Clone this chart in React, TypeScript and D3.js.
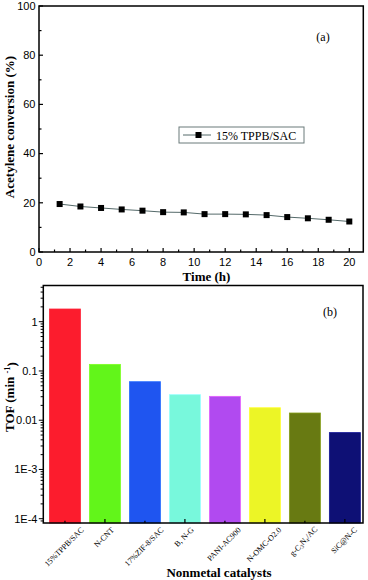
import React, { useEffect, useRef } from 'react';
import * as d3 from 'd3';

// panel (a): conversion vs time
const timeH = [1.33, 2.67, 4, 5.33, 6.67, 8, 9.33, 10.67, 12, 13.33, 14.67, 16, 17.33, 18.67, 20];
const conversion = [19.5, 18.5, 17.9, 17.3, 16.8, 16.2, 16.1, 15.4, 15.4, 15.3, 15.0, 14.2, 13.7, 13.1, 12.4];
const xTicksA = [0, 2, 4, 6, 8, 10, 12, 14, 16, 18, 20];
const yTicksA = [0, 20, 40, 60, 80, 100];

// panel (b): TOF of nonmetal catalysts
const catalysts = ['15%TPPB/SAC', 'N-CNT', '17%ZIF-8/SAC', 'B, N-G', 'PANI-AC900', 'N-OMC-O2.0', 'g-C3N4/AC', 'SiC@N-C'];
const tof = [1.81, 0.136, 0.0605, 0.033, 0.0305, 0.0179, 0.014, 0.0056];
const barColors = ['#fc1c2d', '#62f51a', '#1f55f0', '#78f8dc', '#b14af0', '#ecf526', '#687a12', '#0e1075'];
const yTicksB = [1, 0.1, 0.01, 0.001, 0.0001];
const yTickLabelsB = ['1', '0.1', '0.01', '1E-3', '1E-4'];

const SANS = 'Liberation Sans, Arial, sans-serif';
const SERIF = 'Liberation Serif, Times New Roman, serif';

export default function App() {
  const ref = useRef<SVGSVGElement>(null);

  useEffect(() => {
    const svg = d3.select(ref.current);
    svg.selectAll('*').remove();

    // ---------- panel (a) ----------
    const a = { l: 39, r: 363.3, t: 6, b: 252 };
    const x = d3.scaleLinear().domain([0, 21]).range([a.l, a.l + 21 * 15.515]);
    const y = d3.scaleLinear().domain([0, 100]).range([a.b, a.t]);
    const ga = svg.append('g');

    // minor + major ticks (inward)
    d3.range(0, 101, 10).forEach((v) => {
      const len = v % 20 === 0 ? 4 : 2.5;
      ga.append('line').attr('x1', a.l).attr('x2', a.l + len).attr('y1', y(v)).attr('y2', y(v))
        .attr('stroke', '#000').attr('stroke-width', 1.2);
    });
    d3.range(0, 21, 1).forEach((v) => {
      const len = v % 2 === 0 ? 4 : 2.5;
      ga.append('line').attr('x1', x(v)).attr('x2', x(v)).attr('y1', a.b).attr('y2', a.b - len)
        .attr('stroke', '#000').attr('stroke-width', 1.2);
    });
    ga.append('rect').attr('x', a.l).attr('y', a.t).attr('width', a.r - a.l).attr('height', a.b - a.t)
      .attr('fill', 'none').attr('stroke', '#000').attr('stroke-width', 1.5);

    ga.selectAll('.yl').data(yTicksA).enter().append('text')
      .attr('x', 35.5).attr('y', (d) => y(d)).attr('dy', '0.35em').attr('text-anchor', 'end')
      .attr('font-family', SANS).attr('font-size', 11).text((d) => d);
    ga.selectAll('.xl').data(xTicksA).enter().append('text')
      .attr('x', (d) => x(d)).attr('y', 266).attr('text-anchor', 'middle')
      .attr('font-family', SANS).attr('font-size', 11).text((d) => d);

    ga.append('text').attr('transform', 'translate(14,127) rotate(-90)').attr('text-anchor', 'middle')
      .attr('font-family', SERIF).attr('font-weight', 'bold').attr('font-size', 13)
      .text('Acetylene conversion (%)');
    ga.append('text').attr('x', 206.5).attr('y', 281).attr('text-anchor', 'middle')
      .attr('font-family', SERIF).attr('font-weight', 'bold').attr('font-size', 13).text('Time (h)');
    ga.append('text').attr('x', 323).attr('y', 41).attr('text-anchor', 'middle')
      .attr('font-family', SERIF).attr('font-size', 12).text('(a)');

    const line = d3.line<number>().x((_, i) => x(timeH[i])).y((d) => y(d));
    ga.append('path').datum(conversion).attr('d', line).attr('fill', 'none')
      .attr('stroke', '#556a6a').attr('stroke-width', 1);
    ga.selectAll('.pt').data(conversion).enter().append('rect')
      .attr('x', (_, i) => x(timeH[i]) - 3).attr('y', (d) => y(d) - 3)
      .attr('width', 6).attr('height', 6).attr('fill', '#000');

    // legend
    const lg = ga.append('g');
    lg.append('rect').attr('x', 179).attr('y', 127).attr('width', 125).attr('height', 16)
      .attr('fill', '#fff').attr('stroke', '#6a7a7a').attr('stroke-width', 1);
    lg.append('line').attr('x1', 183).attr('x2', 211).attr('y1', 135).attr('y2', 135)
      .attr('stroke', '#556a6a').attr('stroke-width', 1);
    lg.append('rect').attr('x', 195.5).attr('y', 132).attr('width', 6).attr('height', 6).attr('fill', '#000');
    lg.append('text').attr('x', 216).attr('y', 139.5).attr('font-family', SERIF).attr('font-size', 12)
      .text('15% TPPB/SAC');

    // ---------- panel (b) ----------
    const b = { l: 43.3, r: 363, t: 285.5, b: 523 };
    const yb = d3.scaleLog().domain([Math.pow(10, -4.087), Math.pow(10, 0.735)]).range([b.b, b.t]);
    const xb = d3.scaleBand<string>().domain(catalysts).range([b.l, b.r])
      .paddingInner(0.225).paddingOuter(0.11).align(0.7);
    const gb = svg.append('g');

    gb.selectAll('.bar').data(tof).enter().append('rect')
      .attr('x', (_, i) => xb(catalysts[i]) as number).attr('width', xb.bandwidth())
      .attr('y', (d) => yb(d)).attr('height', (d) => b.b - yb(d))
      .attr('fill', (_, i) => barColors[i])
      .attr('stroke', (_, i) => (d3.color(barColors[i]) as d3.Color).brighter(0.7).formatHex())
      .attr('stroke-width', 0.8);

    // log ticks (outward)
    const minorVals: number[] = [];
    for (let e = -5; e <= 1; e++) {
      for (let k = 1; k <= 9; k++) {
        const v = k * Math.pow(10, e);
        const [lo, hi] = yb.domain();
        if (v >= lo && v <= hi) minorVals.push(v);
      }
    }
    minorVals.forEach((v) => {
      const major = Math.abs(Math.log10(v) - Math.round(Math.log10(v))) < 1e-9;
      gb.append('line').attr('x1', b.l).attr('x2', b.l - (major ? 4.5 : 2.7))
        .attr('y1', yb(v)).attr('y2', yb(v)).attr('stroke', '#000').attr('stroke-width', 1);
    });
    catalysts.forEach((c, i) => {
      const cx = (xb(c) as number) + xb.bandwidth() / 2;
      gb.append('line').attr('x1', cx).attr('x2', cx).attr('y1', b.b).attr('y2', b.b - (i % 2 ? 4 : 2.3))
        .attr('stroke', '#000').attr('stroke-width', 1.2);
    });
    gb.append('rect').attr('x', b.l).attr('y', b.t).attr('width', b.r - b.l).attr('height', b.b - b.t)
      .attr('fill', 'none').attr('stroke', '#000').attr('stroke-width', 1.5);

    gb.selectAll('.ylb').data(yTicksB).enter().append('text')
      .attr('x', 37.5).attr('y', (d) => yb(d)).attr('dy', '0.35em').attr('text-anchor', 'end')
      .attr('font-family', SANS).attr('font-size', 11).text((_, i) => yTickLabelsB[i]);

    // rotated category labels, centred under each bar
    catalysts.forEach((c, i) => {
      const cx = (xb(c) as number) + xb.bandwidth() / 2 - 1;
      const t = gb.append('text').attr('text-anchor', 'middle').attr('dy', '0.35em')
        .attr('font-family', SERIF).attr('font-size', 8);
      if (c === 'g-C3N4/AC') {
        t.append('tspan').text('g-C');
        t.append('tspan').attr('font-size', 5.5).attr('dy', '0.25em').text('3');
        t.append('tspan').attr('dy', '-0.25em').text('N');
        t.append('tspan').attr('font-size', 5.5).attr('dy', '0.25em').text('4');
        t.append('tspan').attr('dy', '-0.25em').text('/AC');
      } else {
        t.text(c);
      }
      const w = (t.node() as SVGTextElement).getComputedTextLength();
      const cy = 528.5 + (w * Math.SQRT1_2) / 2;
      t.attr('transform', `translate(${cx},${cy}) rotate(-45)`);
    });

    const tofLabel = gb.append('text').attr('transform', 'translate(14,397) rotate(-90)')
      .attr('text-anchor', 'middle').attr('font-family', SERIF).attr('font-weight', 'bold').attr('font-size', 13);
    tofLabel.append('tspan').text('TOF (min ');
    tofLabel.append('tspan').attr('font-size', 8.5).attr('dy', '-0.45em').text('-1');
    tofLabel.append('tspan').attr('dy', '0.45em').text(')');

    gb.append('text').attr('x', 219).attr('y', 577).attr('text-anchor', 'middle')
      .attr('font-family', SERIF).attr('font-weight', 'bold').attr('font-size', 13).text('Nonmetal catalysts');
    gb.append('text').attr('x', 330).attr('y', 316).attr('text-anchor', 'middle')
      .attr('font-family', SERIF).attr('font-size', 12).text('(b)');
  }, []);

  return (
    <svg ref={ref} width={368} height={580}
      style={{ position: 'absolute', left: 0, top: 0, background: '#fff' }} />
  );
}
